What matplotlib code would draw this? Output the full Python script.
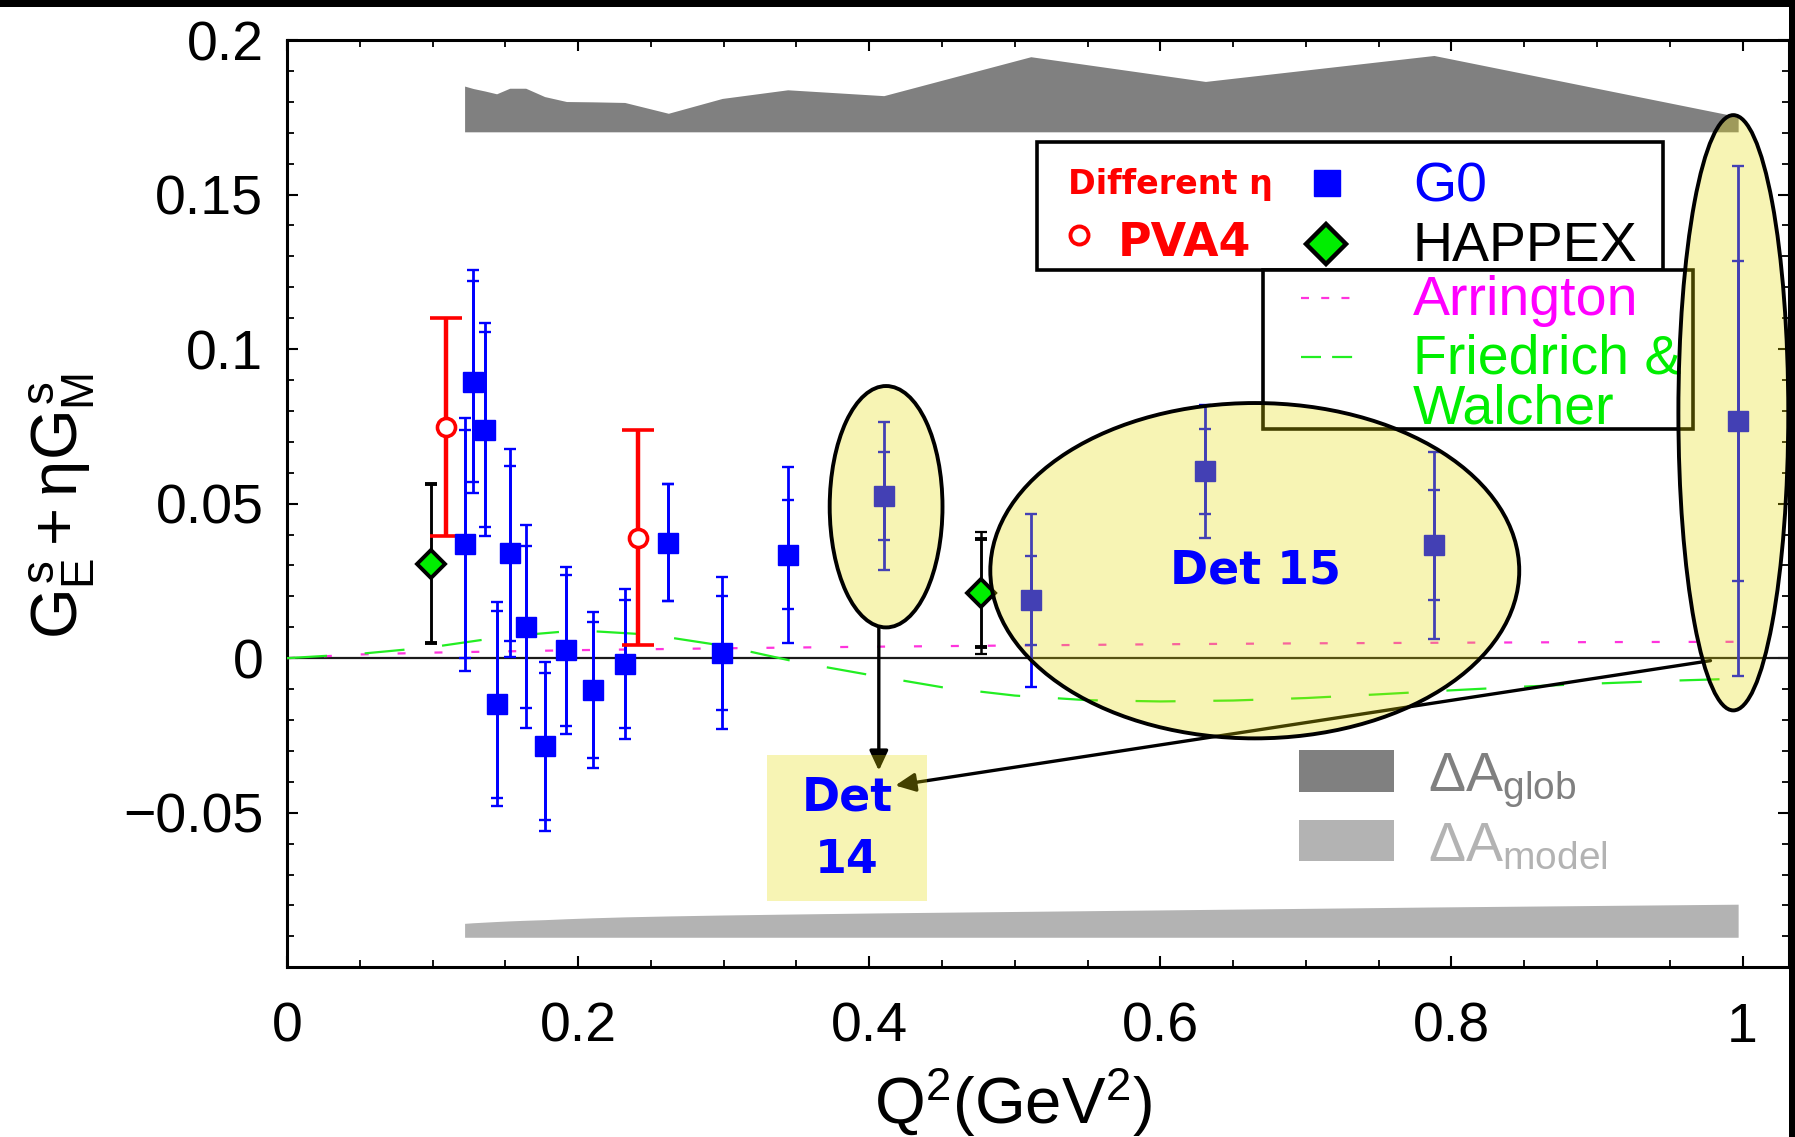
import matplotlib
matplotlib.use("Agg")
import matplotlib.pyplot as plt
from matplotlib.patches import Ellipse, Rectangle
from matplotlib.lines import Line2D

plt.rcParams['font.family'] = ['Liberation Sans', 'DejaVu Sans']
plt.rcParams['mathtext.fontset'] = 'custom'
plt.rcParams['mathtext.rm'] = 'Liberation Sans'
plt.rcParams['mathtext.it'] = 'Liberation Sans'
plt.rcParams['mathtext.bf'] = 'Liberation Sans:bold'

# ---- G0 forward-angle results: Q^2, value, statistical and total errors
g0_q2 = [0.122, 0.128, 0.136, 0.144, 0.153, 0.164, 0.177, 0.192, 0.210,
         0.232, 0.262, 0.299, 0.344, 0.410, 0.511, 0.631, 0.788, 0.997]
g0_val = [0.0368, 0.0895, 0.0739, -0.0149, 0.0340, 0.0102, -0.0285, 0.0025,
          -0.0103, -0.0019, 0.0374, 0.0016, 0.0335, 0.0525, 0.0187, 0.0604,
          0.0365, 0.0768]
g0_stat = [0.0369, 0.0325, 0.0316, 0.0302, 0.0283, 0.0262, 0.0238, 0.0245,
           0.0219, 0.0208, 0.0188, 0.0185, 0.0177, 0.0143, 0.0144, 0.0139,
           0.0178, 0.0517]
g0_tot = [0.0410, 0.0362, 0.0344, 0.0330, 0.0337, 0.0328, 0.0274, 0.0269,
          0.0251, 0.0242, 0.0188, 0.0246, 0.0285, 0.0239, 0.0281, 0.0215,
          0.0302, 0.0825]

# ---- HAPPEX
happex_q2 = [0.099, 0.477]
happex_val = [0.0305, 0.0210]
happex_stat = [0.0257, 0.0175]
happex_tot = [0.0257, 0.0198]

# ---- PVA4
pva4_q2 = [0.109, 0.241]
pva4_val = [0.0747, 0.0390]
pva4_err = [0.0353, 0.0348]

# ---- model curves
arr_q2 = [0.0, 0.05, 0.1, 0.2, 0.3, 0.4, 0.5, 0.6, 0.7, 0.8, 0.9, 1.0]
arr_val = [0.0, 0.0012, 0.0018, 0.0026, 0.0032, 0.0037, 0.0041, 0.0045,
           0.0048, 0.0050, 0.0052, 0.0053]
fw_q2 = [0.0, 0.05, 0.1, 0.15, 0.2, 0.25, 0.3, 0.35, 0.4, 0.45, 0.5, 0.55,
         0.6, 0.65, 0.7, 0.75, 0.8, 0.85, 0.9, 0.95, 1.0]
fw_val = [0.0, 0.0014, 0.0036, 0.0070, 0.0090, 0.0076, 0.0040, -0.0012,
          -0.0054, -0.0094, -0.0121, -0.0136, -0.0140, -0.0137, -0.0129,
          -0.0117, -0.0104, -0.0092, -0.0082, -0.0073, -0.0066]

# ---- systematic bands (evaluated at the G0 Q^2 points)
glob_top = [0.1851, 0.1843, 0.1835, 0.1826, 0.1844, 0.1844, 0.1817, 0.1801,
            0.1800, 0.1798, 0.1763, 0.1811, 0.1839, 0.1820, 0.1946, 0.1866,
            0.1950, 0.1752]
glob_base = 0.1703
model_top = [-0.0858, -0.0856, -0.0854, -0.0852, -0.0850, -0.0848, -0.0846,
             -0.0843, -0.0840, -0.0837, -0.0834, -0.0831, -0.0828, -0.0824,
             -0.0819, -0.0813, -0.0805, -0.0796]
model_base = -0.0903

xtick_vals = [0, 0.2, 0.4, 0.6, 0.8, 1.0]
xtick_labels = ['0', '0.2', '0.4', '0.6', '0.8', '1']
ytick_vals = [-0.05, 0, 0.05, 0.1, 0.15, 0.2]
ytick_labels = ['\u22120.05', '0', '0.05', '0.1', '0.15', '0.2']

BLUE = '#0000ff'
RED = '#ff0000'
GREEN = '#00ee00'
MAGENTA = '#ff00ff'
DARK_GRAY = '#808080'
LIGHT_GRAY = '#b3b3b3'
HIGHLIGHT = (231 / 255, 218 / 255, 0.0, 0.294)
COMIC = ['DejaVu Sans']

fig = plt.figure(figsize=(17.95, 11.37), dpi=100)
ax = fig.add_axes([0.1599, 0.1493, 0.9967 - 0.1599, 0.9648 - 0.1493])
ax.set_xlim(0, 1.032)
ax.set_ylim(-0.1, 0.2)

# systematic bands
ax.fill_between(g0_q2, glob_base, glob_top, color=DARK_GRAY, lw=0, zorder=1)
ax.fill_between(g0_q2, model_base, model_top, color=LIGHT_GRAY, lw=0, zorder=1)

ax.axhline(0, color='#1a1a1a', lw=1.6, zorder=2)

# theory curves
ax.plot(arr_q2, arr_val, color='#ff33dd', lw=1.6, dashes=(3.6, 13), zorder=3)
ax.plot(fw_q2, fw_val, color='#22ee22', lw=1.6, dashes=(18, 17), zorder=3)

# G0
ax.errorbar(g0_q2, g0_val, yerr=g0_tot, fmt='none', ecolor=BLUE,
            elinewidth=2.0, capsize=4, capthick=1.7, zorder=4)
ax.errorbar(g0_q2, g0_val, yerr=g0_stat, fmt='s', color=BLUE, ms=14,
            elinewidth=2.0, capsize=4, capthick=1.7, zorder=5)

# HAPPEX
ax.errorbar(happex_q2, happex_val, yerr=happex_tot, fmt='none', ecolor='black',
            elinewidth=1.8, capsize=4, capthick=1.6, zorder=4)
ax.errorbar(happex_q2, happex_val, yerr=happex_stat, fmt='D', color='black',
            mfc=GREEN, mec='black', mew=2.8, ms=14,
            elinewidth=1.8, capsize=4, capthick=1.6, zorder=5)

# PVA4
ax.errorbar(pva4_q2, pva4_val, yerr=pva4_err, fmt='o', color=RED,
            mfc='white', mec=RED, mew=2.6, ms=13, elinewidth=3.2,
            capsize=11.5, capthick=3.2, zorder=5)

# ---- legend boxes
ax.add_patch(Rectangle((0.5155, 0.1257), 0.4300, 0.0414, fc='white',
                       ec='black', lw=2.6, zorder=6))
ax.add_patch(Rectangle((0.6704, 0.0743), 0.2959, 0.0514, fc='white',
                       ec='black', lw=2.6, zorder=6))

ax.text(0.5367, 0.1503, 'Different \u03b7', color=RED, fontsize=24,
        fontweight='bold', family=COMIC, ha='left', va='baseline', zorder=7)
ax.plot([0.5441], [0.1369], 'o', ms=13, mfc='white', mec=RED, mew=2.8, zorder=7)
ax.text(0.5708, 0.1301, 'PVA4', color=RED, fontsize=33, fontweight='bold',
        family=COMIC, ha='left', va='baseline', zorder=7)
ax.plot([0.7143], [0.1536], 's', ms=19, color=BLUE, zorder=7)
ax.text(0.7736, 0.1476, 'G0', color=BLUE, fontsize=40, ha='left',
        va='baseline', zorder=7)
ax.plot([0.7140], [0.1341], 'D', ms=20, mfc=GREEN, mec='black', mew=3.2,
        zorder=7)
ax.text(0.7736, 0.1284, 'HAPPEX', color='black', fontsize=40, ha='left',
        va='baseline', zorder=7)

ax.add_line(Line2D([0.6965, 0.7324], [0.1166, 0.1166], color='#ff33dd',
                   lw=1.6, dashes=(3.6, 5.5), zorder=7))
ax.text(0.7736, 0.1110, 'Arrington', color=MAGENTA, fontsize=40, ha='left',
        va='baseline', zorder=7)
ax.add_line(Line2D([0.6965, 0.7324], [0.0975, 0.0975], color='#22ee22',
                   lw=1.6, dashes=(9, 5), zorder=7))
ax.text(0.7736, 0.0921, 'Friedrich &', color=GREEN, fontsize=40, ha='left',
        va='baseline', zorder=7)
ax.text(0.7736, 0.0759, 'Walcher', color=GREEN, fontsize=40, ha='left',
        va='baseline', zorder=7)

# band legend
ax.add_patch(Rectangle((0.6953, -0.0432), 0.0653, 0.0135, fc=DARK_GRAY,
                       lw=0, zorder=6))
ax.text(0.7842, -0.0430, r'$\Delta\mathrm{A}_{\mathrm{glob}}$',
        color=DARK_GRAY, fontsize=40, ha='left', va='baseline', zorder=7)
ax.add_patch(Rectangle((0.6953, -0.0656), 0.0653, 0.0134, fc=LIGHT_GRAY,
                       lw=0, zorder=6))
ax.text(0.7842, -0.0656, r'$\Delta\mathrm{A}_{\mathrm{model}}$',
        color=LIGHT_GRAY, fontsize=40, ha='left', va='baseline', zorder=7)

# ---- detector highlights
arrow_style = dict(arrowstyle='-|>,head_length=0.6,head_width=0.28',
                   mutation_scale=20, lw=2.4, color='black',
                   shrinkA=0, shrinkB=0)
ax.annotate('', xy=(0.4066, -0.0364), xytext=(0.4066, 0.0099),
            arrowprops=arrow_style, zorder=7)
ax.annotate('', xy=(0.4179, -0.0412), xytext=(0.978, -0.0008),
            arrowprops=arrow_style, zorder=7)

for cx, cy, w, h in [(0.4116, 0.0490, 0.0775, 0.0781),
                     (0.6649, 0.0283, 0.3634, 0.1085),
                     (0.9937, 0.0794, 0.0755, 0.1926)]:
    ax.add_patch(Ellipse((cx, cy), w, h, fc=HIGHLIGHT, ec='black', lw=2.8,
                         zorder=8, clip_on=False))

ax.add_patch(Rectangle((0.3298, -0.0786), 0.1097, 0.0472, fc=HIGHLIGHT,
                       lw=0, zorder=8))
ax.text(0.3847, -0.0453, 'Det', color=BLUE, fontsize=33, fontweight='bold',
        family=COMIC, ha='center', va='center', zorder=10)
ax.text(0.3847, -0.0656, '14', color=BLUE, fontsize=33, fontweight='bold',
        family=COMIC, ha='center', va='center', zorder=10)
ax.text(0.6654, 0.0283, 'Det 15', color=BLUE, fontsize=33, fontweight='bold',
        family=COMIC, ha='center', va='center', zorder=10)

# ---- axes styling
ax.set_xticks(xtick_vals)
ax.set_xticklabels(xtick_labels)
ax.set_xticks([i * 0.05 for i in range(21)], minor=True)
ax.set_yticks(ytick_vals)
ax.set_yticklabels(ytick_labels)
ax.set_yticks([-0.1 + i * 0.01 for i in range(31)], minor=True)
ax.tick_params(which='both', direction='in', top=True, right=True,
               labelsize=40)
ax.tick_params(which='major', length=8, width=1.5)
ax.tick_params(which='minor', length=5, width=1.3)
ax.tick_params(axis='x', pad=25)
ax.tick_params(axis='y', pad=17)
for sp in ax.spines.values():
    sp.set_linewidth(2.2)

fig.text(0.0436, 0.5552, r'$G_E^s + \eta G_M^s$', rotation=90,
         rotation_mode='anchor', ha='center', va='baseline', fontsize=47)
fig.text(0.5644, 0.0114, r'Q$^2$(GeV$^2$)', ha='center', va='baseline',
         fontsize=47)

# frame strips along the top and right edge
fig.patches.append(Rectangle((0, 1 - 7 / 1137), 1, 7 / 1137,
                             transform=fig.transFigure, fc='black', lw=0))
fig.patches.append(Rectangle((1789 / 1795, 0), 6 / 1795, 1,
                             transform=fig.transFigure, fc='black', lw=0))

fig.savefig('out.png', dpi=100)
